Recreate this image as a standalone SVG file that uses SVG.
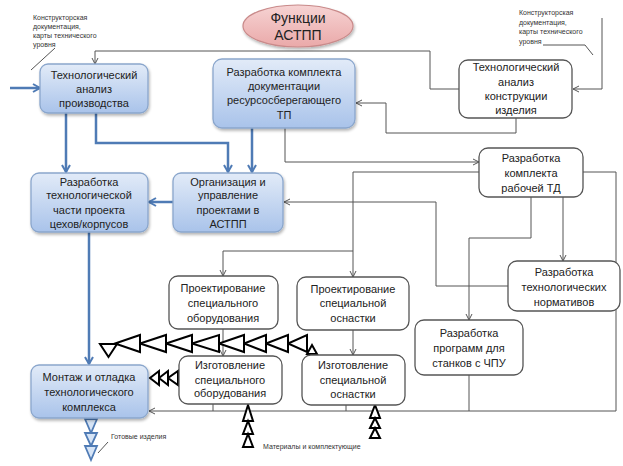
<svg xmlns="http://www.w3.org/2000/svg" width="623" height="466" viewBox="0 0 623 466">
<defs>
<linearGradient id="bg" x1="0" y1="0" x2="0" y2="1">
<stop offset="0" stop-color="#e2ebf8"/>
<stop offset="1" stop-color="#a9c3ea"/>
</linearGradient>
<linearGradient id="pg" x1="0" y1="0" x2="0" y2="1">
<stop offset="0" stop-color="#f6d3d3"/>
<stop offset="1" stop-color="#eaa9a9"/>
</linearGradient>
<filter id="sh" x="-10%" y="-10%" width="125%" height="130%">
<feGaussianBlur in="SourceAlpha" stdDeviation="1.5"/>
<feOffset dx="1" dy="2" result="o"/>
<feComponentTransfer><feFuncA type="linear" slope="0.3"/></feComponentTransfer>
<feMerge><feMergeNode/><feMergeNode in="SourceGraphic"/></feMerge>
</filter>
<marker id="ag" markerWidth="8" markerHeight="8" refX="7" refY="4" orient="auto" markerUnits="userSpaceOnUse">
<path d="M1,1 L7,4 L1,7" fill="none" stroke="#555" stroke-width="1"/>
</marker>
<marker id="ab" markerWidth="10" markerHeight="10" refX="8" refY="5" orient="auto" markerUnits="userSpaceOnUse">
<path d="M1,1 L8,5 L1,9" fill="none" stroke="#4f7bb5" stroke-width="2"/>
</marker>
</defs>
<style>
.blue{fill:url(#bg);stroke:#8aa6cc;stroke-width:1.3;filter:url(#sh)}
.white{fill:#fff;stroke:#555;stroke-width:1.3}
.t{font-family:"Liberation Sans",Arial,sans-serif;font-size:11px;fill:#222;text-anchor:middle}
.s{font-family:"Liberation Sans",Arial,sans-serif;font-size:7px;fill:#333}
.h{font-family:"Liberation Sans",Arial,sans-serif;font-size:14px;fill:#222;text-anchor:middle}
.b{fill:none;stroke:#4f7bb5;stroke-width:2.5;marker-end:url(#ab)}
.g{fill:none;stroke:#555;stroke-width:1;marker-end:url(#ag)}
.gn{fill:none;stroke:#555;stroke-width:1}
.tri{fill:#fff;stroke:#000;stroke-width:2;stroke-linejoin:miter}
.trib{fill:#d6e4f6;stroke:#4f7bb5;stroke-width:1.8}
</style>
<rect width="623" height="466" fill="#fff"/>

<g id="connectors">
<path class="b" d="M10,88 H40"/>
<path class="b" d="M66,113 V172"/>
<path class="b" d="M96,113 V143 H228 V172"/>
<path class="b" d="M252,128 V172"/>
<path class="b" d="M173,202 H149"/>
<path class="b" d="M89,232 V364"/>
<path class="g" d="M459,89 H430 V51 H95 V64"/>
<path class="g" d="M602,18 V89 H573"/>
<path class="g" d="M516,118 V133 H386 V103 H356"/>
<path class="g" d="M285,128 V162 H479"/>
<path class="g" d="M508,286 H436 V202 H284"/>
<path class="g" d="M479,172 H353 V277"/>
<path class="g" d="M353,251 H223 V276"/>
<path class="g" d="M531,197 V238 H469 V320"/>
<path class="g" d="M563,197 V261"/>
<path class="g" d="M583,172 H616 V411 H149"/>
<path class="gn" d="M213,404 V411 M346,405 V411 M469,375 V411"/>
<path class="g" d="M223,329 V356"/>
<path class="g" d="M353,330 V355"/>
<path class="gn" d="M31,70 L55,48"/>
<path class="gn" d="M543,45 H585 L593,55"/>
<path class="gn" d="M98,453 L108,442"/>
</g>

<g id="flows">
<path class="tri" d="M307,335 V352 L288,343.5 Z"/>
<path class="tri" d="M288,335 V352 L266,343.5 Z"/>
<path class="tri" d="M266,335 V352 L244,343.5 Z"/>
<path class="tri" d="M244,335 V352 L219,343.5 Z"/>
<path class="tri" d="M219,335 V352 L192,343.5 Z"/>
<path class="tri" d="M192,335 V352 L166,343.5 Z"/>
<path class="tri" d="M166,335 V352 L140,343.5 Z"/>
<path class="tri" d="M140,335 V352 L115,343.5 Z"/>
<path class="tri" d="M100,344 H117 L108.5,357 Z"/>
<path class="tri" d="M307,354 H317 L312,345 Z"/>
<path class="tri" d="M178,371 V385 L168,378 Z"/>
<path class="tri" d="M168,371 V385 L159,378 Z"/>
<path class="tri" d="M159,371 V385 L150,378 Z"/>
<path class="tri" d="M243,421 H253 L248,405 Z"/>
<path class="tri" d="M243,434 H253 L248,421 Z"/>
<path class="tri" d="M243,447 H253 L248,434 Z"/>
<path class="tri" d="M370,418 H380 L375,405 Z"/>
<path class="tri" d="M370,428 H380 L375,418 Z"/>
<path class="tri" d="M370,438 H380 L375,428 Z"/>
<path class="trib" d="M85,419 H97 L91,433 Z"/>
<path class="trib" d="M85,433 H97 L91,446 Z"/>
<path class="trib" d="M85,446 H97 L91,460 Z"/>
</g>

<g id="title">
<ellipse cx="298" cy="26" rx="55" ry="21" fill="url(#pg)" stroke="#c98a8a" stroke-width="1.2" filter="url(#sh)"/>
<text class="h" x="298" y="23">Функции</text>
<text class="h" x="298" y="40">АСТПП</text>
</g>

<g id="note-left">
<text class="s" x="33" y="20">Конструкторская</text>
<text class="s" x="33" y="29">документация,</text>
<text class="s" x="33" y="38">карты технического</text>
<text class="s" x="33" y="47">уровня</text>
</g>
<g id="note-right">
<text class="s" x="519" y="15">Конструкторская</text>
<text class="s" x="519" y="25">документация,</text>
<text class="s" x="519" y="34">карты технического</text>
<text class="s" x="519" y="44">уровня</text>
</g>

<g id="n-tap">
<rect class="blue" x="40" y="64" width="108" height="49" rx="8"/>
<text class="t" x="94" y="79">Технологический</text>
<text class="t" x="94" y="93">анализ</text>
<text class="t" x="94" y="107">производства</text>
</g>

<g id="n-docs">
<rect class="blue" x="213" y="59" width="142" height="69" rx="9"/>
<text class="t" x="284" y="76">Разработка комплекта</text>
<text class="t" x="284" y="90">документации</text>
<text class="t" x="284" y="104">ресурсосберегающего</text>
<text class="t" x="284" y="119">ТП</text>
</g>

<g id="n-tak">
<rect class="white" x="459" y="60" width="113" height="58" rx="9"/>
<text class="t" x="516" y="71">Технологический</text>
<text class="t" x="516" y="86">анализ</text>
<text class="t" x="516" y="100">конструкции</text>
<text class="t" x="516" y="114">изделия</text>
</g>

<g id="n-part">
<rect class="blue" x="31" y="173" width="117" height="59" rx="8"/>
<text class="t" x="89" y="186">Разработка</text>
<text class="t" x="89" y="199">технологической</text>
<text class="t" x="89" y="214">части проекта</text>
<text class="t" x="89" y="228">цехов/корпусов</text>
</g>

<g id="n-org">
<rect class="blue" x="173" y="173" width="110" height="59" rx="8"/>
<text class="t" x="228" y="186">Организация и</text>
<text class="t" x="228" y="199">управление</text>
<text class="t" x="228" y="214">проектами в</text>
<text class="t" x="228" y="228">АСТПП</text>
</g>

<g id="n-td">
<rect class="white" x="479" y="148" width="104" height="49" rx="9"/>
<text class="t" x="531" y="162">Разработка</text>
<text class="t" x="531" y="177">комплекта</text>
<text class="t" x="531" y="192">рабочей ТД</text>
</g>

<g id="n-norm">
<rect class="white" x="508" y="261" width="112" height="50" rx="9"/>
<text class="t" x="564" y="276">Разработка</text>
<text class="t" x="564" y="291">технологических</text>
<text class="t" x="564" y="306">нормативов</text>
</g>

<g id="n-cnc">
<rect class="white" x="415" y="320" width="108" height="55" rx="9"/>
<text class="t" x="469" y="337">Разработка</text>
<text class="t" x="469" y="352">программ для</text>
<text class="t" x="469" y="367">станков с ЧПУ</text>
</g>

<g id="n-peq">
<rect class="white" x="169" y="276" width="109" height="53" rx="9"/>
<text class="t" x="223" y="292">Проектирование</text>
<text class="t" x="223" y="307">специального</text>
<text class="t" x="223" y="322">оборудования</text>
</g>

<g id="n-ptool">
<rect class="white" x="297" y="277" width="112" height="53" rx="9"/>
<text class="t" x="353" y="293">Проектирование</text>
<text class="t" x="353" y="307">специальной</text>
<text class="t" x="353" y="322">оснастки</text>
</g>

<g id="n-meq">
<rect class="white" x="179" y="356" width="103" height="48" rx="9"/>
<text class="t" x="230" y="369">Изготовление</text>
<text class="t" x="230" y="384">специального</text>
<text class="t" x="230" y="397">оборудования</text>
</g>

<g id="n-mtool">
<rect class="white" x="302" y="355" width="103" height="50" rx="9"/>
<text class="t" x="353" y="369">Изготовление</text>
<text class="t" x="353" y="384">специальной</text>
<text class="t" x="353" y="398">оснастки</text>
</g>

<g id="n-mont">
<rect class="blue" x="31" y="365" width="117" height="53" rx="8"/>
<text class="t" x="89" y="381">Монтаж и отладка</text>
<text class="t" x="89" y="396">технологического</text>
<text class="t" x="89" y="411">комплекса</text>
</g>

<g id="labels">
<text class="s" x="111" y="439">Готовые изделия</text>
<text class="s" x="263" y="449">Материалы и комплектующие</text>
</g>
</svg>
